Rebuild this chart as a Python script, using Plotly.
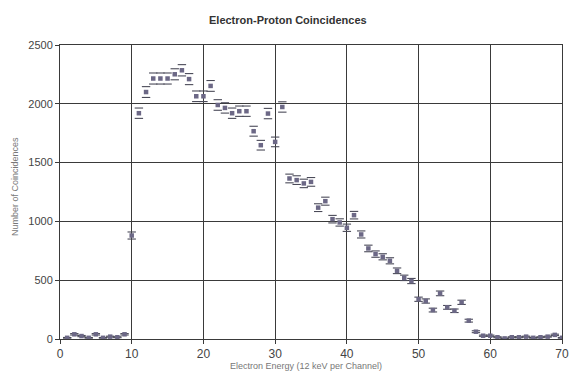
import plotly.graph_objects as go

channels = list(range(1, 71))
counts = [10, 40, 25, 10, 40, 10, 20, 15, 40, 880,
          1920, 2100, 2215, 2215, 2215, 2251, 2285, 2210, 2064, 2064,
          2152, 1990, 1965, 1920, 1937, 1937, 1767, 1648, 1917, 1676,
          1973, 1365, 1351, 1323, 1336, 1117, 1172, 1019, 991, 946,
          1053, 889, 770, 722, 699, 665, 580, 520, 493, 338,
          323, 246, 388, 269, 240, 312, 156, 62, 28, 28,
          15, 5, 15, 15, 20, 10, 15, 20, 35, 10]
errors = [3, 6, 5, 3, 6, 3, 4, 4, 6, 30,
          44, 46, 47, 47, 47, 47, 48, 47, 45, 45,
          46, 45, 44, 44, 44, 44, 42, 41, 44, 41,
          44, 37, 37, 36, 37, 33, 34, 32, 31, 31,
          32, 30, 28, 27, 26, 26, 24, 23, 22, 18,
          18, 16, 20, 16, 15, 18, 12, 8, 5, 5,
          4, 2, 4, 4, 4, 3, 4, 4, 6, 3]

upper = [c + e for c, e in zip(counts, errors)]
lower = [c - e for c, e in zip(counts, errors)]

marker_color = "#6c6886"
cap_color = "#4a4a58"

fig = go.Figure()
fig.add_trace(go.Scatter(x=channels, y=upper, mode="markers",
                         marker=dict(symbol="line-ew", size=6,
                                     line=dict(width=1.1, color=cap_color)),
                         hoverinfo="skip", showlegend=False))
fig.add_trace(go.Scatter(x=channels, y=lower, mode="markers",
                         marker=dict(symbol="line-ew", size=6,
                                     line=dict(width=1.1, color=cap_color)),
                         hoverinfo="skip", showlegend=False))
fig.add_trace(go.Scatter(x=channels, y=counts, mode="markers",
                         marker=dict(symbol="square", size=4.5, color=marker_color),
                         showlegend=False))

font_family = "Liberation Sans, Arial, sans-serif"
fig.update_layout(
    width=570, height=373,
    margin=dict(l=60, r=8, t=45, b=34, autoexpand=False),
    paper_bgcolor="white", plot_bgcolor="white",
    font=dict(family=font_family, size=11, color="#444"),
    title=dict(text="<b>Electron-Proton Coincidences</b>",
               x=0.505, xanchor="center", y=0.947, yanchor="middle",
               font=dict(size=11, color="#333", family=font_family)),
    xaxis=dict(range=[0, 70], tickvals=[0, 10, 20, 30, 40, 50, 60, 70],
               showgrid=True, gridcolor="#3a3a3a", gridwidth=1,
               showline=True, linecolor="#3a3a3a", linewidth=1, mirror=True,
               ticks="outside", ticklen=4, tickcolor="#3a3a3a", automargin=False,
               zeroline=False, tickfont=dict(size=12, color="#444")),
    yaxis=dict(range=[0, 2500], tickvals=[0, 500, 1000, 1500, 2000, 2500],
               showgrid=True, gridcolor="#3a3a3a", gridwidth=1,
               showline=True, linecolor="#3a3a3a", linewidth=1, mirror=True,
               ticks="outside", ticklen=4, tickcolor="#3a3a3a", automargin=False,
               zeroline=False, tickfont=dict(size=11, color="#444")),
    annotations=[
        dict(text="Electron Energy (12 keV per Channel)", xref="paper", yref="paper",
             x=0.49, y=-0.092, xanchor="center", yanchor="middle", showarrow=False,
             font=dict(size=9, color="#777", family=font_family)),
        dict(text="Number of Coincidences", xref="paper", yref="paper",
             x=-0.09, y=0.52, xanchor="center", yanchor="middle", showarrow=False,
             textangle=-90, font=dict(size=9, color="#777", family=font_family)),
    ],
)

fig.write_html("out.html")
